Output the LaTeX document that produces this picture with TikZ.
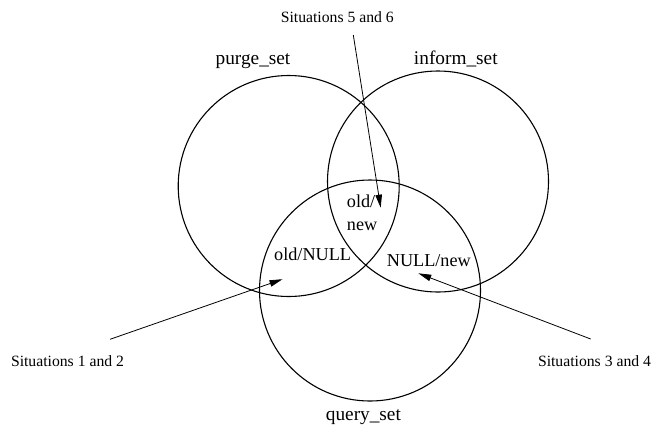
\documentclass[tikz,border=0pt]{standalone}
\usepackage{fontspec}
\setmainfont{Liberation Serif}
\usetikzlibrary{arrows.meta}
\begin{document}
\begin{tikzpicture}[x=1pt,y=-1pt,
  setcircle/.style={draw=black,line width=1.1pt},
  setlabel/.style={inner sep=0pt,anchor=base,font=\fontsize{19.3}{23}\selectfont},
  regionlabel/.style={inner sep=0pt,font=\fontsize{18.2}{23.4}\selectfont},
  sitlabel/.style={inner sep=0pt,anchor=base,font=\fontsize{15.7}{19}\selectfont},
  pointer/.style={draw=black,line width=0.8pt,-{Triangle[length=13pt,width=6.5pt]}}]
\useasboundingbox (0,0) rectangle (652,424);
% circles
\node[setcircle,circle,minimum size=221pt,inner sep=0pt] (purge) at (288.7,186) {};
\node[setcircle,circle,minimum size=221pt,inner sep=0pt] (inform) at (438,181.5) {};
\node[setcircle,circle,minimum size=221pt,inner sep=0pt] (query) at (370,290.5) {};
% set labels
\node[setlabel] (purgelbl) at (253,64) {purge\_set};
\node[setlabel] (informlbl) at (455.8,64.3) {inform\_set};
\node[setlabel] (querylbl) at (363.4,420.7) {query\_set};
% region labels
\node[regionlabel,anchor=base west,align=left] (oldnew) at (346.7,230.7) {old/\\new};
\node[regionlabel,anchor=base west] (oldnull) at (274,260.3) {old/NULL};
\node[regionlabel,anchor=base west] (nullnew) at (386.7,266.7) {NULL/new};
% situation labels
\node[sitlabel] (sit12) at (67.5,366) {Situations 1 and 2};
\node[sitlabel] (sit34) at (594.5,366) {Situations 3 and 4};
\node[sitlabel] (sit56) at (337.3,22.7) {Situations 5 and 6};
% arrow ends
\coordinate (s12) at (110,339.3);
\coordinate (t12) at (282.5,279.2);
\coordinate (s34) at (590.7,339);
\coordinate (t34) at (418.3,273.3);
\coordinate (s56) at (353.3,35);
\coordinate (t56) at (380.7,207.7);
\draw[pointer] (s12) -- (t12);
\draw[pointer] (s34) -- (t34);
\draw[pointer] (s56) -- (t56);
\end{tikzpicture}
\end{document}
